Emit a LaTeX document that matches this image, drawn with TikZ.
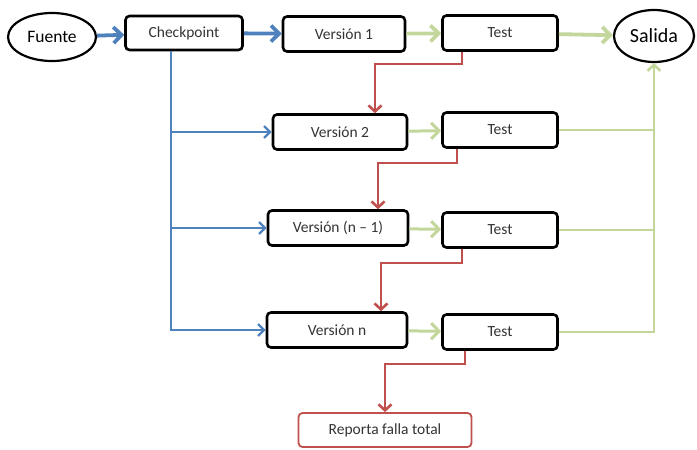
\documentclass[tikz,border=0pt]{standalone}
\usepackage{fontspec}
\setmainfont{Carlito}
\usetikzlibrary{arrows.meta,shapes.geometric}
\definecolor{flowblue}{HTML}{4F81BD}
\definecolor{flowgreen}{HTML}{C3D69B}
\definecolor{flowred}{HTML}{C0504D}
\definecolor{flowtext}{HTML}{333333}

\begin{document}
\begin{tikzpicture}[x=1pt,y=-1pt,
  verbox/.style={draw,line width=2.6pt,rounded corners=4pt,minimum height=35pt,
    text=flowtext,font=\fontsize{15.5}{17}\selectfont},
  endbox/.style={draw,ellipse,line width=2.2pt},
  feed/.style={flowblue,line width=3.8pt,-{Straight Barb[length=8pt,width=16pt]}},
  feedthin/.style={flowblue,line width=2.4pt,-{Straight Barb[length=6pt,width=12pt]}},
  pass/.style={flowgreen,line width=3.8pt,-{Straight Barb[length=8pt,width=16pt]}},
  passthin/.style={flowgreen,line width=2.6pt},
  fail/.style={flowred,line width=2.6pt,-{Straight Barb[length=6pt,width=13pt]}}]
  \useasboundingbox (0,0) rectangle (697,450);
  % entrada y salida
  \node[endbox,minimum width=88pt,minimum height=48pt,font=\fontsize{17.5}{19}\selectfont] (fuente) at (52,37) {Fuente};
  \node[endbox,minimum width=80pt,minimum height=52pt,font=\fontsize{20}{22}\selectfont] (salida) at (654,36) {Salida};
  % versiones y tests
  \node[verbox,minimum width=117pt,minimum height=34pt] (chk) at (184,33) {Checkpoint};
  \node[verbox,minimum width=122pt] (v1) at (344,34) {Versión 1};
  \node[verbox,minimum width=115pt] (t1) at (500,33) {Test};
  \node[verbox,minimum width=134pt] (v2) at (340,132) {Versión 2};
  \node[verbox,minimum width=115pt] (t2) at (500,130) {Test};
  \node[verbox,minimum width=140pt] (v3) at (338,228) {Versión (n – 1)};
  \node[verbox,minimum width=115pt] (t3) at (500,230) {Test};
  \node[verbox,minimum width=140pt] (v4) at (337,330) {Versión n};
  \node[verbox,minimum width=115pt] (t4) at (500,332) {Test};
  \node[verbox,draw=flowred,line width=1.8pt,minimum width=173pt,minimum height=34pt] (rep) at (385,430) {Reporta falla total};
  % flujo principal
  \draw[feed] (fuente) -- (chk);
  \draw[feed] (chk) -- (v1);
  \draw[pass] (v1) -- (t1);
  \draw[pass] (t1) -- (salida);
  % ramas del checkpoint
  \coordinate (bus) at (171,0);
  \draw[feedthin] (chk.south -| bus) |- (v4.west);
  \draw[feedthin] (bus |- v2.west) -- (v2.west);
  \draw[feedthin] (bus |- v3.west) -- (v3.west);
  % versiones a tests
  \draw[pass,line width=3pt] (v2) -- (t2);
  \draw[pass,line width=3pt] (v3) -- (t3);
  \draw[pass,line width=3pt] (v4) -- (t4);
  % tests correctos a la salida
  \draw[passthin,-{Straight Barb[length=6pt,width=13pt]}] (t4.east) -| (salida.south);
  \draw[passthin] (t2.east) -- (t2.east -| salida.south);
  \draw[passthin] (t3.east) -- (t3.east -| salida.south);
  % fallos
  \draw[fail] ([xshift=-38pt]t1.south) -- ++(0,12) -| ([xshift=35pt]v2.north);
  \draw[fail] ([xshift=-43pt]t2.south) -- ++(0,14) -| ([xshift=40pt]v3.north);
  \draw[fail] ([xshift=-38pt]t3.south) -- ++(0,14) -| ([xshift=44pt]v4.north);
  \draw[fail] ([xshift=-35pt]t4.south) -- ++(0,13) -| (rep.north);
\end{tikzpicture}
\end{document}
